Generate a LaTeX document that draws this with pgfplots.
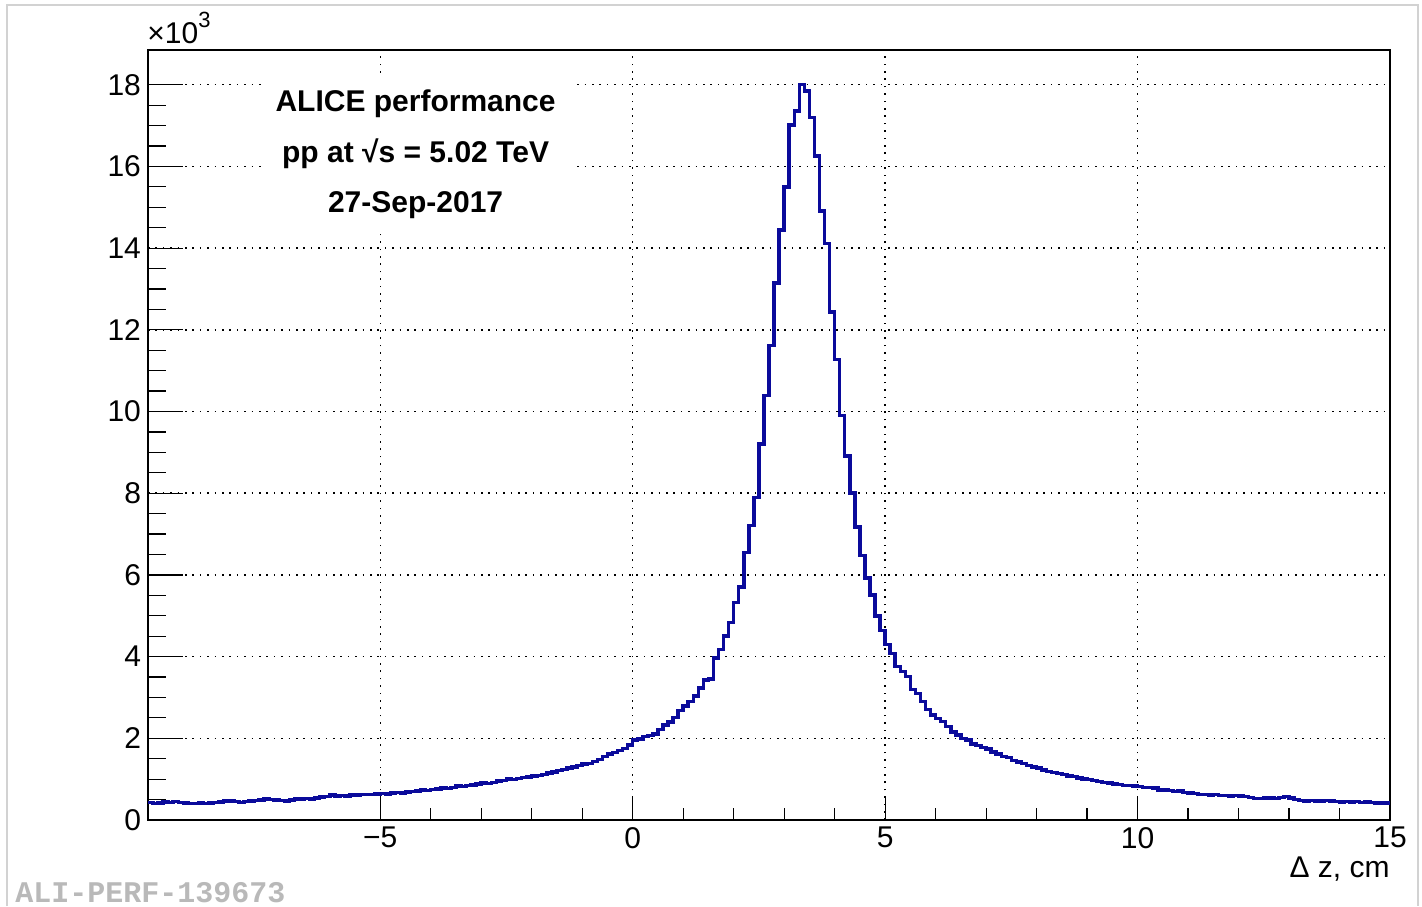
\documentclass[border=0pt]{standalone}
\usepackage{fontspec}
\setmainfont{Liberation Sans}
\newfontfamily\monofont{Liberation Mono}
\usepackage{pgfplots}
\pgfplotsset{compat=1.18}
\usepackage{pgfplotstable}
\definecolor{histblue}{RGB}{10,10,155}

\pgfplotstableread{
x y
-9.6 0.43
-9.5 0.41
-9.4 0.42
-9.3 0.44
-9.2 0.43
-9.1 0.45
-9.0 0.43
-8.9 0.42
-8.8 0.41
-8.7 0.40
-8.6 0.42
-8.5 0.41
-8.4 0.42
-8.3 0.43
-8.2 0.44
-8.1 0.46
-8.0 0.47
-7.9 0.45
-7.8 0.43
-7.7 0.45
-7.6 0.47
-7.5 0.48
-7.4 0.49
-7.3 0.51
-7.2 0.50
-7.1 0.49
-7.0 0.48
-6.9 0.47
-6.8 0.49
-6.7 0.51
-6.6 0.52
-6.5 0.53
-6.4 0.52
-6.3 0.54
-6.2 0.56
-6.1 0.58
-6.0 0.61
-5.9 0.59
-5.8 0.60
-5.7 0.59
-5.6 0.61
-5.5 0.61
-5.4 0.62
-5.3 0.63
-5.2 0.62
-5.1 0.64
-5.0 0.65
-4.9 0.64
-4.8 0.66
-4.7 0.67
-4.6 0.66
-4.5 0.69
-4.4 0.70
-4.3 0.71
-4.2 0.73
-4.1 0.72
-4.0 0.75
-3.9 0.76
-3.8 0.78
-3.7 0.77
-3.6 0.80
-3.5 0.83
-3.4 0.82
-3.3 0.84
-3.2 0.86
-3.1 0.88
-3.0 0.90
-2.9 0.89
-2.8 0.92
-2.7 0.95
-2.6 0.97
-2.5 1.00
-2.4 0.99
-2.3 1.02
-2.2 1.04
-2.1 1.05
-2.0 1.08
-1.9 1.09
-1.8 1.12
-1.7 1.15
-1.6 1.18
-1.5 1.21
-1.4 1.24
-1.3 1.27
-1.2 1.30
-1.1 1.33
-1.0 1.37
-0.9 1.38
-0.8 1.43
-0.7 1.48
-0.6 1.55
-0.5 1.62
-0.4 1.65
-0.3 1.70
-0.2 1.75
-0.1 1.84
0.0 1.96
0.1 1.98
0.2 2.04
0.3 2.07
0.4 2.10
0.5 2.21
0.6 2.33
0.7 2.40
0.8 2.51
0.9 2.68
1.0 2.79
1.1 2.90
1.2 3.04
1.3 3.23
1.4 3.43
1.5 3.45
1.6 3.96
1.7 4.18
1.8 4.51
1.9 4.84
2.0 5.33
2.1 5.70
2.2 6.55
2.3 7.21
2.4 7.90
2.5 9.21
2.6 10.39
2.7 11.62
2.8 13.14
2.9 14.44
3.0 15.50
3.1 17.02
3.2 17.36
3.3 18.00
3.4 17.85
3.5 17.20
3.6 16.26
3.7 14.91
3.8 14.11
3.9 12.44
4.0 11.27
4.1 9.90
4.2 8.91
4.3 8.01
4.4 7.17
4.5 6.47
4.6 5.92
4.7 5.51
4.8 5.00
4.9 4.64
5.0 4.30
5.1 4.08
5.2 3.76
5.3 3.64
5.4 3.51
5.5 3.19
5.6 3.10
5.7 2.90
5.8 2.70
5.9 2.57
6.0 2.49
6.1 2.41
6.2 2.29
6.3 2.16
6.4 2.08
6.5 2.00
6.6 1.96
6.7 1.86
6.8 1.82
6.9 1.77
7.0 1.74
7.1 1.67
7.2 1.61
7.3 1.56
7.4 1.53
7.5 1.46
7.6 1.42
7.7 1.38
7.8 1.33
7.9 1.30
8.0 1.27
8.1 1.23
8.2 1.19
8.3 1.16
8.4 1.14
8.5 1.11
8.6 1.08
8.7 1.06
8.8 1.03
8.9 1.00
9.0 0.99
9.1 0.97
9.2 0.94
9.3 0.92
9.4 0.90
9.5 0.88
9.6 0.87
9.7 0.85
9.8 0.84
9.9 0.83
10.0 0.82
10.1 0.80
10.2 0.79
10.3 0.78
10.4 0.74
10.5 0.74
10.6 0.72
10.7 0.70
10.8 0.71
10.9 0.67
11.0 0.66
11.1 0.65
11.2 0.63
11.3 0.62
11.4 0.61
11.5 0.62
11.6 0.60
11.7 0.60
11.8 0.59
11.9 0.60
12.0 0.59
12.1 0.57
12.2 0.55
12.3 0.53
12.4 0.53
12.5 0.54
12.6 0.54
12.7 0.53
12.8 0.55
12.9 0.57
13.0 0.54
13.1 0.50
13.2 0.48
13.3 0.47
13.4 0.48
13.5 0.47
13.6 0.46
13.7 0.48
13.8 0.47
13.9 0.45
14.0 0.44
14.1 0.45
14.2 0.44
14.3 0.45
14.4 0.43
14.5 0.44
14.6 0.43
14.7 0.42
14.8 0.42
14.9 0.42
15.0 0.42
}\histdata

\begin{document}
\begin{tikzpicture}
\path[use as bounding box] (0,0) rectangle (711pt,453pt);
\draw[gray!35, line width=0.6pt] (3.5pt,0) -- (3.5pt,450.5pt) -- (709pt,450.5pt) -- (709pt,0);
\node[anchor=base west, inner sep=0pt, text=gray!55, font=\monofont\bfseries\fontsize{15}{18}\selectfont] at (7.5pt,2pt) {ALI-PERF-139673};
\begin{axis}[
  at={(74pt,43pt)}, anchor=south west,
  width=621pt, height=385pt, scale only axis,
  xmin=-9.6, xmax=15, ymin=0, ymax=18.85,
  axis line style={black, line width=0.8pt},
  tick align=inside, xtick pos=bottom, ytick pos=left,
  xtick={-5,0,5,10,15},
  xticklabels={−5,0,5,10,15},
  minor x tick num=4,
  ytick={0,2,4,6,8,10,12,14,16,18},
  minor y tick num=3,
  xtick style={black, line width=0.6pt, /pgfplots/major tick length=12pt, /pgfplots/minor tick length=6pt},
  ytick style={black, line width=0.6pt, /pgfplots/major tick length=17.5pt, /pgfplots/minor tick length=9pt},
  grid=major,
  major grid style={black, line width=0.75pt, dash pattern=on 0.8pt off 2.9pt},
  tick label style={font=\fontsize{15}{18}\selectfont},
  /pgf/number format/assume math mode=true,
  xlabel={Δ z, cm},
  xlabel style={at={(1,0)}, anchor=north east, inner sep=0pt, yshift=-18pt, font=\fontsize{15}{18}\selectfont},
  clip=true,
]
\fill[white] (axis cs:-7.35,14.4) rectangle (axis cs:-1.2,18.25);
\addplot[const plot, draw=histblue, line width=1.75pt] table[x=x,y=y] {\histdata};
\node[font=\bfseries\fontsize{15}{18}\selectfont] at (axis cs:-4.3,17.54) {ALICE performance};
\node[font=\bfseries\fontsize{15}{18}\selectfont] at (axis cs:-4.3,16.32) {pp at √s = 5.02 TeV};
\node[font=\bfseries\fontsize{15}{18}\selectfont] at (axis cs:-4.3,15.05) {27-Sep-2017};
\end{axis}
\node[anchor=base west, inner sep=0pt, font=\fontsize{15}{18}\selectfont] at (73.5pt,431pt) {×10\raisebox{0.55em}{\fontsize{11}{13}\selectfont 3}};
\end{tikzpicture}
\end{document}
